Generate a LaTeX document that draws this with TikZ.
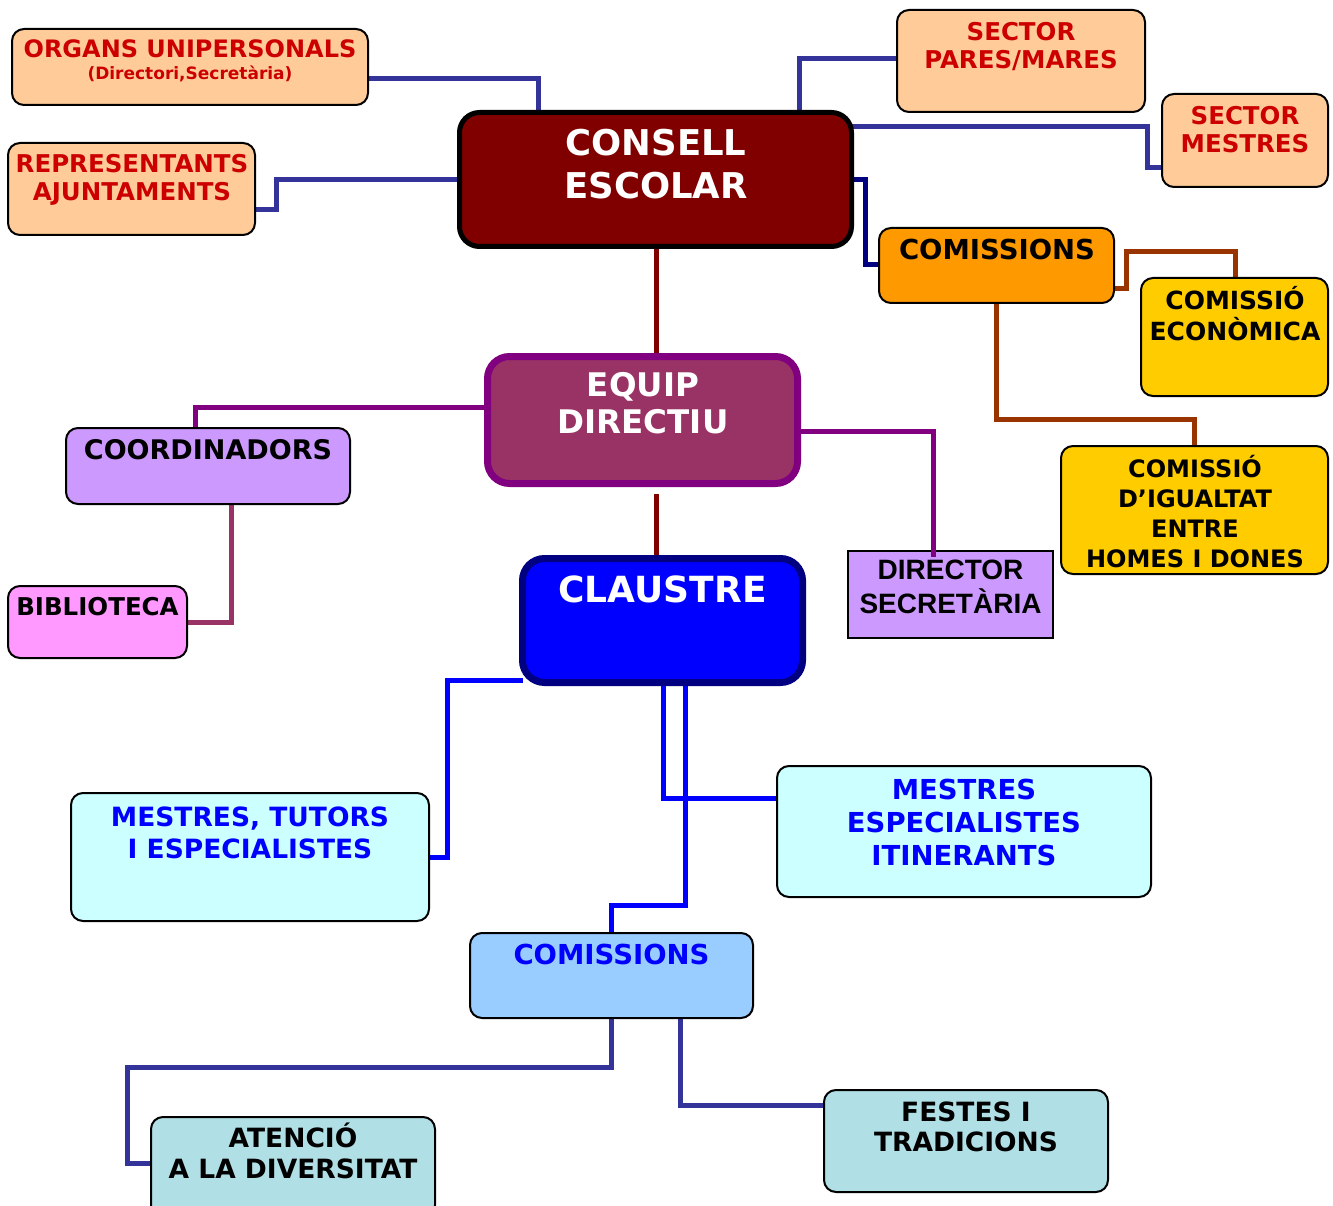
\documentclass[tikz,border=0pt]{standalone}
\usepackage{fontspec}
\usetikzlibrary{backgrounds}
\setmainfont{DejaVu Sans}
\newfontfamily\arialf{Liberation Sans}
\definecolor{peach}{HTML}{FFCC99}
\definecolor{redtxt}{HTML}{CC0000}
\definecolor{maroonf}{HTML}{800000}
\definecolor{linkblue}{HTML}{333399}
\definecolor{navyc}{HTML}{000080}
\definecolor{orangef}{HTML}{FF9900}
\definecolor{yellowf}{HTML}{FFCC00}
\definecolor{brownc}{HTML}{993300}
\definecolor{plumf}{HTML}{993366}
\definecolor{purplec}{HTML}{800080}
\definecolor{lilac}{HTML}{CC99FF}
\definecolor{pinkf}{HTML}{FF99FF}
\definecolor{bluef}{HTML}{0000FF}
\definecolor{cyanf}{HTML}{CCFFFF}
\definecolor{skyf}{HTML}{99CCFF}
\definecolor{powder}{HTML}{B0E0E6}
\newcommand\fsz[2]{\fontsize{#1}{#2}\selectfont\bfseries}
\begin{document}
\begin{tikzpicture}[x=1pt,y=-1pt,
  box/.style={draw=black, line width=2pt, rounded corners=12pt, inner sep=0pt, outer sep=0pt, anchor=north west},
  bigbox/.style={box, line width=7pt, rounded corners=22pt},
  txt/.style={anchor=base, align=center, inner sep=0pt, outer sep=0pt},
  link/.style={line width=5pt},
  cblue/.style={link, draw=linkblue},
  cnavy/.style={link, draw=navyc},
  cbrown/.style={link, draw=brownc},
  cmaroon/.style={link, draw=maroonf},
  cpurple/.style={link, draw=purplec},
  cplum/.style={link, draw=plumf},
  cbright/.style={link, draw=bluef}]
\useasboundingbox (0,0) rectangle (1333,1206);

% boxes
\node[box, fill=peach, minimum width=356pt, minimum height=76pt] (ou) at (12,29) {};
\node[box, fill=peach, minimum width=247pt, minimum height=92pt] (ra) at (8,143) {};
\node[box, fill=maroonf, line width=5pt, rounded corners=20pt, minimum width=392pt, minimum height=134pt] (ce) at (459.5,112.5) {};
\node[box, fill=peach, minimum width=248pt, minimum height=102pt] (spm) at (897,10) {};
\node[box, fill=peach, minimum width=166pt, minimum height=93pt] (sm) at (1162,94) {};
\node[box, fill=orangef, minimum width=235pt, minimum height=75pt] (com1) at (879,228) {};
\node[box, fill=yellowf, minimum width=187pt, minimum height=118pt] (ceco) at (1141,278) {};
\node[box, fill=yellowf, minimum width=267pt, minimum height=128pt] (cig) at (1061,446) {};
\node[bigbox, draw=purplec, fill=plumf, minimum width=310pt, minimum height=127pt] (ed) at (487.5,356.5) {};
\node[box, fill=lilac, minimum width=284pt, minimum height=76pt] (coord) at (66,428) {};
\node[box, fill=pinkf, minimum width=179pt, minimum height=72pt] (bib) at (8,586) {};
\node[box, fill=lilac, rounded corners=0pt, minimum width=205pt, minimum height=87pt] (dir) at (848,551) {};
\node[bigbox, draw=navyc, fill=bluef, minimum width=280pt, minimum height=124pt] (cl) at (522.5,558.5) {};
\node[box, fill=cyanf, minimum width=358pt, minimum height=128pt] (mt) at (71,793) {};
\node[box, fill=cyanf, minimum width=374pt, minimum height=131pt] (mei) at (777,766) {};
\node[box, fill=skyf, minimum width=283pt, minimum height=85pt] (com2) at (470,933) {};
\node[box, fill=powder, minimum width=284pt, minimum height=100pt] (at) at (151,1117) {};
\node[box, fill=powder, minimum width=284pt, minimum height=102pt] (fe) at (824,1090) {};

\coordinate (edgap) at (656,494);

% connectors (behind boxes)
\begin{pgfonlayer}{background}
\draw[cblue] (ou.east |- 0,79) -| (ce.north -| 538,0);
\draw[cblue] (ra.east |- 0,210) -| (276,180) -- (ce.west |- 0,180);
\draw[cblue] (ce.north -| 799,0) |- (spm.west |- 0,59);
\draw[cblue] (ce.east |- 0,127) -| (1147,168) -- (sm.west |- 0,168);
\draw[cnavy] (ce.east |- 0,180) -| (865,265) -- (com1.west |- 0,265);
\draw[cbrown] (com1.east |- 0,289) -| (1126,252) -| (ceco.north -| 1235,0);
\draw[cbrown] (com1.south -| 996,0) |- (1194,419) -- (cig.north -| 1194,0);
\draw[cmaroon] (ce.south -| 656,0) -- (ed.north -| 656,0);
\draw[cpurple] (ed.west |- 0,407) -| (coord.north -| 195,0);
\draw[cplum] (coord.south -| 231,0) |- (bib.east |- 0,622);
\draw[cmaroon] (edgap) -- (cl.north -| 656,0);
\draw[cbright] (cl.west |- 0,680) -| (447,857) -- (mt.east |- 0,857);
\draw[cbright] (cl.south -| 663,0) |- (mei.west |- 0,798);
\draw[cbright] (cl.south -| 685,0) |- (611,905) -- (com2.north -| 611,0);
\draw[cblue] (com2.south -| 611,0) |- (127,1067) |- (at.west |- 0,1163);
\draw[cblue] (com2.south -| 680,0) |- (fe.west |- 0,1105);
\end{pgfonlayer}
% this one overlaps the top of its box
\draw[cpurple] (ed.east |- 0,431) -| (dir.north -| 933,0) -- ++(0,6);

% texts (anchor=base is the last line's baseline)
\node[txt, text=redtxt, font=\fsz{24}{28}] (ou-t) at (190,58) {ORGANS UNIPERSONALS};
\node[txt, text=redtxt, font=\fsz{17}{20}] (ou-t2) at (190,80) {(Directori,Secretària)};
\node[txt, text=redtxt, font=\fsz{24.5}{28}] (ra-t) at (132,201) {REPRESENTANTS\\AJUNTAMENTS};
\node[txt, text=white, font=\fsz{35.5}{43}] (ce-t) at (656,199) {CONSELL\\ESCOLAR};
\node[txt, text=redtxt, font=\fsz{24.5}{28}] (spm-t) at (1021,69) {SECTOR\\PARES/MARES};
\node[txt, text=redtxt, font=\fsz{24.5}{28}] (sm-t) at (1245,153) {SECTOR\\MESTRES};
\node[txt, text=black, font=\fsz{27.5}{30}] (com1-t) at (997,260) {COMISSIONS};
\node[txt, text=black, font=\fsz{25}{32}] (ceco-t) at (1235,341) {COMISSIÓ\\ECONÒMICA};
\node[txt, text=black, font=\fsz{24}{30}] (cig-t) at (1195,567) {COMISSIÓ\\D’IGUALTAT\\ENTRE\\HOMES I DONES};
\node[txt, text=white, font=\fsz{32.5}{37}] (ed-t) at (643,433) {EQUIP\\DIRECTIU};
\node[txt, text=black, font=\fsz{27}{30}] (coord-t) at (208,459) {COORDINADORS};
\node[txt, text=black, font=\fsz{24.5}{28}] (bib-t) at (97.5,615) {BIBLIOTECA};
\node[txt, text=black, font={\arialf\fontsize{28}{34}\selectfont\bfseries}] (dir-t) at (950.5,613) {DIRECTOR\\SECRETÀRIA};
\node[txt, text=white, font=\fsz{36}{40}] (cl-t) at (662.5,602) {CLAUSTRE};
\node[txt, text=bluef, font=\fsz{26.5}{32}] (mt-t) at (250,858.5) {MESTRES, TUTORS\\I ESPECIALISTES};
\node[txt, text=bluef, font=\fsz{27.5}{33}] (mei-t) at (964,865) {MESTRES\\ESPECIALISTES\\ITINERANTS};
\node[txt, text=bluef, font=\fsz{27.5}{30}] (com2-t) at (611.5,964) {COMISSIONS};
\node[txt, text=black, font=\fsz{26.5}{31}] (at-t) at (293,1178.5) {ATENCIÓ\\A LA DIVERSITAT};
\node[txt, text=black, font=\fsz{26.5}{30}] (fe-t) at (966,1151.5) {FESTES I\\TRADICIONS};
\end{tikzpicture}
\end{document}
